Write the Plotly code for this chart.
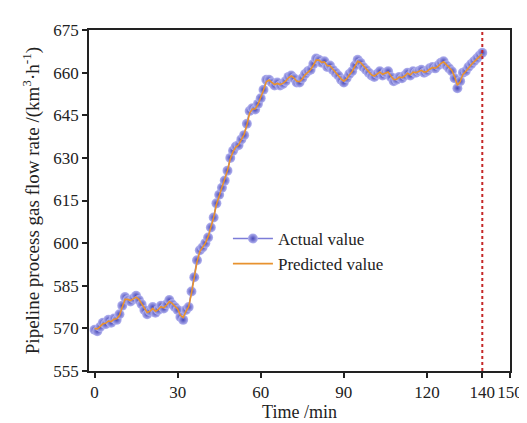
import plotly.graph_objects as go

time_min = list(range(0, 141))

actual_value = [
    569.5, 569.0, 570.5, 572.0, 571.5, 573.0, 572.0, 573.5, 573.0, 575.0,
    578.0, 581.0, 580.0, 579.5, 580.5, 581.5, 580.0, 578.5, 576.5, 575.0,
    576.0, 577.5, 575.5, 576.5, 578.0, 577.0, 578.5, 580.0, 578.5, 577.5,
    576.5, 574.0, 573.0, 576.5, 577.5, 583.0, 588.0, 594.0, 597.5, 598.5,
    600.0, 602.0, 605.5, 609.0, 614.0, 617.0, 619.5, 622.0, 625.5, 630.0,
    632.5, 634.0, 634.5, 636.5, 638.0, 642.0, 646.5, 647.5, 647.0, 649.0,
    651.0, 654.0, 657.5, 657.5, 656.5, 655.5, 656.5, 655.5, 656.0, 657.0,
    658.5, 659.0, 658.0, 656.5, 656.5, 658.0, 659.5, 660.5, 661.0, 663.0,
    665.0, 664.5, 663.5, 664.0, 662.0, 662.5, 661.0, 660.0, 659.0, 657.5,
    656.5, 658.0, 659.5, 660.5, 662.5, 664.5, 663.5, 662.0, 661.0, 660.0,
    659.0, 658.5, 659.5, 660.5, 659.0, 660.0, 660.5, 658.5, 657.0, 657.5,
    658.5, 658.0, 659.0, 660.0, 659.0, 660.5, 660.0, 660.5, 661.0, 660.0,
    660.5, 661.5, 662.0, 661.5, 662.5, 663.5, 664.0, 662.5, 661.5, 660.5,
    658.0, 654.5, 657.0, 660.0, 660.5, 662.0, 663.0, 664.0, 665.0, 666.0,
    667.0,
]

predicted_value = [
    570.0, 569.8, 570.6, 571.6, 571.8, 572.6, 572.4, 573.2, 573.4, 574.6,
    577.4, 580.2, 580.2, 579.8, 580.4, 581.0, 580.2, 578.8, 577.0, 575.6,
    576.0, 577.0, 576.0, 576.6, 577.6, 577.2, 578.2, 579.4, 578.8, 577.8,
    576.8, 574.6, 573.8, 576.0, 577.6, 582.4, 587.6, 593.4, 597.0, 598.4,
    600.0, 602.2, 605.4, 609.0, 613.6, 616.6, 619.4, 622.2, 625.6, 629.6,
    632.2, 633.8, 634.6, 636.4, 638.2, 641.6, 645.8, 647.2, 647.2, 648.8,
    651.0, 653.8, 656.8, 657.4, 656.6, 655.8, 656.2, 655.8, 656.2, 657.0,
    658.2, 658.8, 658.2, 657.0, 656.8, 657.8, 659.2, 660.2, 661.0, 662.6,
    664.4, 664.4, 663.6, 663.8, 662.4, 662.4, 661.2, 660.2, 659.2, 657.8,
    657.0, 657.8, 659.2, 660.4, 662.2, 664.0, 663.6, 662.4, 661.2, 660.2,
    659.2, 658.8, 659.4, 660.2, 659.4, 659.8, 660.2, 658.8, 657.6, 657.6,
    658.4, 658.2, 658.8, 659.8, 659.2, 660.2, 660.0, 660.4, 660.8, 660.2,
    660.4, 661.2, 661.8, 661.6, 662.2, 663.2, 663.8, 662.8, 661.8, 660.8,
    658.6, 655.6, 656.8, 659.4, 660.4, 661.8, 662.8, 663.8, 664.8, 665.8,
    666.6,
]

x_ticks = [0, 30, 60, 90, 120, 140, 150]
y_ticks = [555, 570, 585, 600, 615, 630, 645, 660, 675]
split_time = 140

font_family = "Liberation Serif, Times New Roman, serif"

fig = go.Figure()
fig.add_trace(go.Scatter(
    x=time_min, y=actual_value, name="Actual value",
    mode="lines+markers",
    line=dict(color="#7c7cd8", width=1.5),
    marker=dict(size=10, color="#b4b4f0",
                gradient=dict(type="radial", color="#4848b8"),
                line=dict(width=0)),
))
fig.add_trace(go.Scatter(
    x=time_min, y=predicted_value, name="Predicted value",
    mode="lines",
    line=dict(color="#e8922e", width=1.6),
))

fig.add_shape(type="line", x0=split_time, x1=split_time, y0=555, y1=675,
              xref="x", yref="y",
              line=dict(color="#c62828", width=2, dash="dot"))

axis_common = dict(
    showline=True, linecolor="#222", linewidth=1.6, mirror=True,
    ticks="outside", ticklen=5, tickwidth=1.5, tickcolor="#222",
    showgrid=False, zeroline=False,
    tickfont=dict(family=font_family, size=17, color="#222"),
)

fig.update_layout(
    width=527, height=423,
    margin=dict(l=81, r=19, t=22, b=58),
    paper_bgcolor="white", plot_bgcolor="white",
    font=dict(family=font_family, size=17, color="#222"),
    showlegend=True,
    legend=dict(x=0.33, y=0.44, xanchor="left", yanchor="top",
                bgcolor="rgba(0,0,0,0)", font=dict(family=font_family, size=17),
                tracegroupgap=0, itemwidth=40),
    xaxis=dict(range=[-2, 150], tickvals=x_ticks,
               title=dict(text="Time /min", standoff=4,
                          font=dict(family=font_family, size=18)),
               **axis_common),
    yaxis=dict(range=[555, 675], tickvals=y_ticks,
               title=dict(text="Pipeline process gas flow rate /(km<sup>3</sup>·h<sup>-1</sup>)",
                          standoff=9, font=dict(family=font_family, size=19)),
               **axis_common),
)

fig.write_html("out.html")
